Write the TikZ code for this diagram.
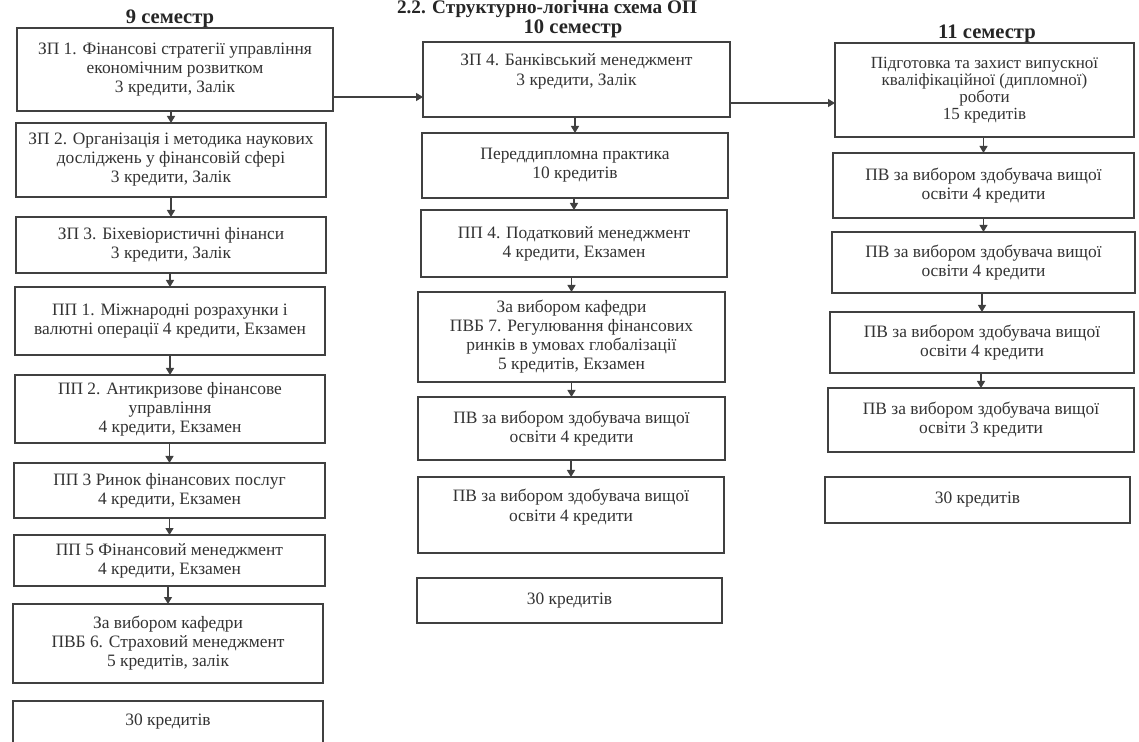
\documentclass[tikz,border=0pt]{standalone}
\usepackage{fontspec}
\setmainfont{Liberation Serif}
\usetikzlibrary{arrows.meta}
\newcommand\mkbox[7][]{\node[box,#1, minimum width={(#5-#3)*0.5pt}, minimum height={(#6-#4)*0.5pt}] (#2) at ({(#3+#5)/2},{(#4+#6)/2}) {#7};}
\begin{document}
\begin{tikzpicture}[x=0.5pt,y=-0.5pt,
  box/.style={draw=black!75, line width=0.6pt, inner sep=0pt, outer sep=0pt, align=center, text=black!80, font=\fontsize{8.7}{9.5}\selectfont},
  txt/.style={inner sep=0pt, outer sep=0pt, align=center, text=black!80, font=\fontsize{8.7}{9.8}\selectfont, anchor=north},
  arr/.style={draw=black!75, line width=0.6pt, -{Triangle[length=3.5pt,width=4pt]}},
  head/.style={font=\fontsize{10.3}{12}\selectfont\bfseries, text=black!85, anchor=base, inner sep=0pt}]
\clip (0,0) rectangle (1139,742);
\fill[white] (0,0) rectangle (1139,742);

% headings
\node[head, font=\fontsize{9.6}{11}\selectfont\bfseries] (title) at (547,14) {2.2. Структурно-логічна схема ОП};
\node[head] (h9) at (170,23.5) {9 семестр};
\node[head] (h10) at (573,33.5) {10 семестр};
\node[head] (h11) at (987,39) {11 семестр};

% left column
\mkbox{l1}{17}{28}{333}{111}{ЗП 1. Фінансові стратегії управління\\економічним розвитком\\3 кредити, Залік}
\mkbox{l2}{16}{123}{326}{197}{ЗП 2. Організація і методика наукових\\досліджень у фінансовій сфері\\3 кредити, Залік}
\mkbox{l3}{16}{217}{326}{273}{ЗП 3. Біхевіористичні фінанси\\3 кредити, Залік}
\mkbox{l4}{15}{287}{325}{355}{ПП 1. Міжнародні розрахунки і\\валютні операції 4 кредити, Екзамен}
\mkbox{l5}{15}{375}{325}{443}{ПП 2. Антикризове фінансове\\управління\\4 кредити, Екзамен}
\mkbox{l6}{14}{463}{325}{518}{ПП 3 Ринок фінансових послуг\\4 кредити, Екзамен}
\mkbox{l7}{14}{535}{325}{586}{ПП 5 Фінансовий менеджмент\\4 кредити, Екзамен}
\mkbox{l8}{13}{604}{323}{683}{За вибором кафедри\\ПВБ 6. Страховий менеджмент\\5 кредитів, залік}
\mkbox{l9}{13}{701}{323}{775}{}
\node[txt] (l9t) at ([yshift=-6.5pt]l9.north) {30 кредитів};

% middle column
\mkbox{m1}{423}{42}{730}{117}{}
\node[txt] (m1t) at ([yshift=-6pt]m1.north) {ЗП 4. Банківський менеджмент\\3 кредити, Залік};
\mkbox{m2}{422}{133}{728}{198}{Переддипломна практика\\10 кредитів}
\mkbox{m3}{421}{210}{727}{277}{ПП 4. Податковий менеджмент\\4 кредити, Екзамен}
\mkbox{m4}{418}{292}{725}{382}{За вибором кафедри\\ПВБ 7. Регулювання фінансових\\ринків в умовах глобалізації\\5 кредитів, Екзамен}
\mkbox{m5}{418}{397}{725}{460}{ПВ за вибором здобувача вищої\\освіти 4 кредити}
\mkbox{m6}{418}{477}{724}{553}{}
\node[txt] (m6t) at ([yshift=-6pt]m6.north) {ПВ за вибором здобувача вищої\\освіти 4 кредити};
\mkbox{m7}{417}{578}{722}{623}{30 кредитів}

% right column
\mkbox[font=\fontsize{8.5}{8.6}\selectfont]{r1}{835}{43}{1134}{137}{Підготовка та захист випускної\\кваліфікаційної (дипломної)\\роботи\\15 кредитів}
\mkbox{r2}{833}{153}{1134}{218}{ПВ за вибором здобувача вищої\\освіти 4 кредити}
\mkbox{r3}{832}{232}{1135}{293}{ПВ за вибором здобувача вищої\\освіти 4 кредити}
\mkbox{r4}{830}{312}{1134}{373}{ПВ за вибором здобувача вищої\\освіти 4 кредити}
\mkbox{r5}{828}{388}{1134}{452}{ПВ за вибором здобувача вищої\\освіти 3 кредити}
\mkbox{r6}{825}{477}{1130}{523}{30 кредитів}

% vertical arrows
\foreach \a/\b in {l1/l2,l2/l3,l3/l4,l4/l5,l5/l6,l6/l7,l7/l8,
                   m1/m2,m2/m3,m3/m4,m4/m5,m5/m6,
                   r1/r2,r2/r3,r3/r4,r4/r5}
  \draw[arr] (\b.north |- \a.south) -- (\b.north);

% horizontal arrows
\coordinate (a1) at ([yshift=7pt]l1.south east);
\draw[arr] (a1) -- (a1 -| m1.west);
\coordinate (a2) at ([yshift=7pt]m1.south east);
\draw[arr] (a2) -- (a2 -| r1.west);
\end{tikzpicture}
\end{document}
